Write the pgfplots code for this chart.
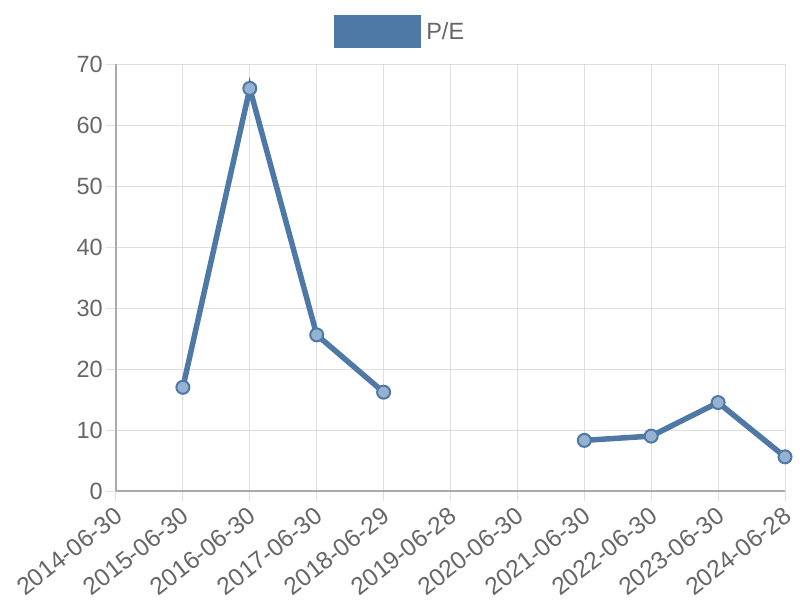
\documentclass[border=0pt]{standalone}
\usepackage{pgfplots}
\pgfplotsset{compat=1.18}
\usepackage{fontspec}
\setmainfont{Liberation Sans}
\definecolor{pe}{RGB}{78,121,167}
\definecolor{pefill}{RGB}{150,178,210}
\definecolor{gridc}{RGB}{222,222,222}
\definecolor{axisc}{RGB}{170,170,170}
\definecolor{txt}{RGB}{102,102,102}
\begin{document}
\begin{tikzpicture}
\useasboundingbox (-116pt,-109pt) rectangle (684pt,491pt);
\begin{axis}[
  scale only axis, width=669pt, height=427pt,
  anchor=south west, at={(0pt,0pt)},
  xmin=0, xmax=10, ymin=0, ymax=70,
  xtick={0,...,10},
  xticklabels={2014-06-30,2015-06-30,2016-06-30,2017-06-30,2018-06-29,2019-06-28,2020-06-30,2021-06-30,2022-06-30,2023-06-30,2024-06-28},
  ytick={0,10,...,70},
  grid=major,
  major grid style={gridc, line width=1pt},
  axis x line*=bottom, axis y line*=left,
  axis line style={axisc, line width=1.2pt, -},
  tick align=outside, major tick length=10pt,
  tick style={gridc, line width=1pt},
  xtick pos=bottom, ytick pos=left,
  ticklabel style={font=\fontsize{23.5}{26}\selectfont, text=txt},
  /pgf/number format/assume math mode=true,
  xticklabel style={font=\fontsize{24.5}{26}\selectfont, rotate=38, anchor=north east, inner sep=1pt, xshift=-4pt, yshift=-1pt},
  yticklabel style={inner sep=2pt, xshift=-1pt},
  legend style={at={(0.4245,1.076)}, anchor=center, draw=none, fill=none,
    font=\fontsize{23.5}{26}\selectfont, text=txt, inner sep=0pt,
    legend cell align=left},
  legend image code/.code={\fill[pe] (0pt,-14pt) rectangle (82pt,14pt);},
  clip=false,
]
\addplot[pe, line width=5.5pt, mark=*, mark size=6.5pt, unbounded coords=jump,
  mark options={fill=pefill, draw=pe, line width=2pt}]
  coordinates {(0,nan) (1,17) (2,66) (3,25.6) (4,16.2) (5,nan) (6,nan) (7,8.3) (8,9) (9,14.5) (10,5.6)};
\addlegendentry{\hspace{3pt}P/E}
\end{axis}
\end{tikzpicture}
\end{document}
